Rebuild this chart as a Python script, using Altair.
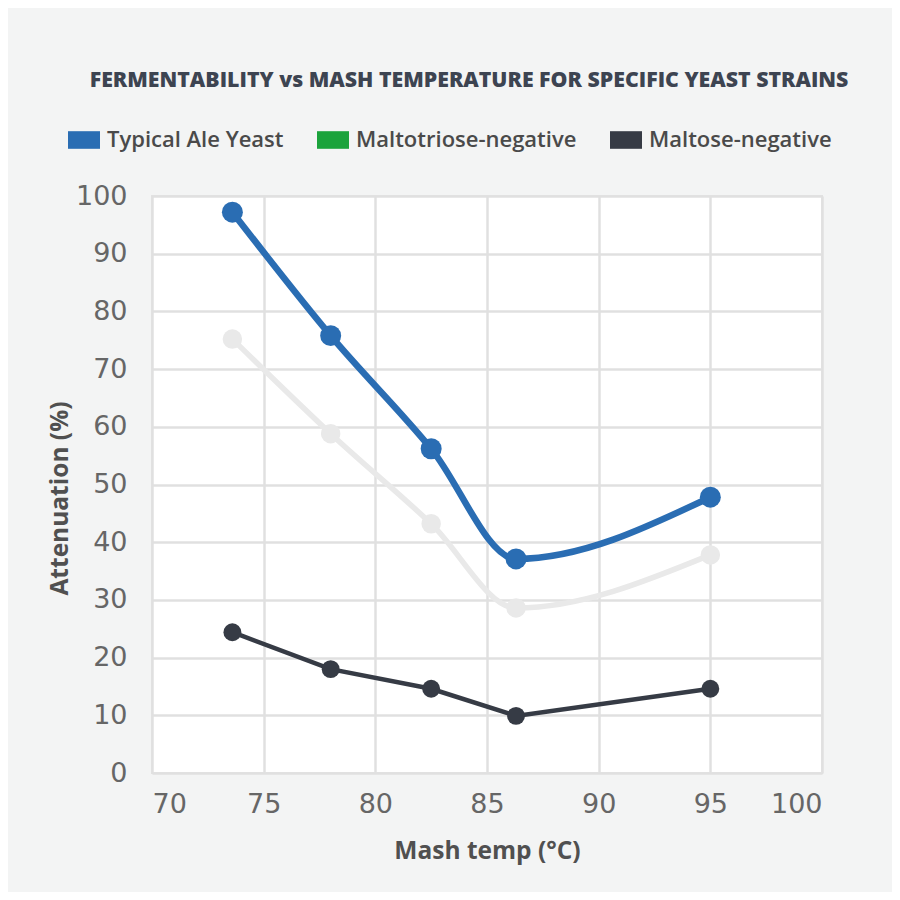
import altair as alt
import pandas as pd

series = ["Typical Ale Yeast", "Maltotriose-negative", "Maltose-negative"]
temps = [73.6, 78.0, 82.5, 86.3, 95.0]
ale = [97.2, 75.8, 56.2, 37.1, 47.8]
maltotriose_neg = [75.2, 58.8, 43.2, 28.6, 37.8]
maltose_neg = [24.4, 18.0, 14.6, 9.9, 14.6]

legend_colors = ["#2a6db3", "#1ba33c", "#363b45"]
line_colors = ["#2a6db3", "#e9e9e9", "#363b45"]

rows = []
for name, vals in zip(series, [ale, maltotriose_neg, maltose_neg]):
    for t, v in zip(temps, vals):
        rows.append({"series": name, "temp": t, "att": v})
df = pd.DataFrame(rows)

x = alt.X("temp:Q", title="Mash temp (°C)",
          scale=alt.Scale(domain=[70, 100], nice=False),
          axis=alt.Axis(values=[70, 75, 80, 85, 90, 95, 100]))
y = alt.Y("att:Q", title="Attenuation (%)",
          scale=alt.Scale(domain=[0, 100], nice=False),
          axis=alt.Axis(values=list(range(0, 101, 10)), titleY=302))

line_color = alt.Color("series:N", scale=alt.Scale(domain=series, range=line_colors), legend=None)
line_width = alt.StrokeWidth("series:N", scale=alt.Scale(domain=series, range=[6.5, 4.5, 6]), legend=None)
pt_size = alt.Size("series:N", scale=alt.Scale(domain=series, range=[440, 320, 400]), legend=None)

base = alt.Chart(df)
smooth = base.transform_filter(
    alt.FieldOneOfPredicate(field="series", oneOf=[series[0], series[1]])
).mark_line(interpolate="monotone").encode(x=x, y=y, color=line_color, strokeWidth=line_width,
                                           order=alt.Order("temp:Q"))
straight = base.transform_filter(
    alt.FieldEqualPredicate(field="series", equal=series[2])
).mark_line().encode(x=x, y=y, color=line_color, strokeWidth=line_width, order=alt.Order("temp:Q"))
points = base.mark_circle(opacity=1).encode(x=x, y=y, color=line_color, size=pt_size)

legend_layer = base.mark_point(filled=True, opacity=0).encode(
    x=x, y=y,
    color=alt.Color("series:N", scale=alt.Scale(domain=series, range=legend_colors),
                    legend=alt.Legend(
                        title=None, orient="none", direction="horizontal",
                        legendX=-84, legendY=-72,
                        symbolType="M-1,-0.55H1V0.55H-1Z", symbolSize=1024,
                        symbolOpacity=1, symbolStrokeWidth=0,
                        labelFont="Open Sans", labelFontSize=22, labelFontWeight=600,
                        labelColor="#4a4a4a", labelOffset=7, columnPadding=33,
                        labelLimit=400)),
)

chart = alt.layer(smooth, straight, points, legend_layer).resolve_scale(
    color="independent", size="independent", strokeWidth="independent"
).properties(
    width=670, height=577,
    autosize=alt.AutoSizeParams(type="none"),
    padding={"left": 144, "top": 188, "right": 70, "bottom": 119},
    background="#f3f4f4",
    title=alt.TitleParams(
        "FERMENTABILITY vs MASH TEMPERATURE FOR SPECIFIC YEAST STRAINS",
        font="Open Sans",
        fontSize=21.3, fontWeight=800, color="#3d4451",
        anchor="middle", dx=-18, offset=33,
    ),
).configure_view(
    fill="white", stroke="#e2e2e2", strokeWidth=2
).configure_axis(
    grid=True, gridColor="#e0e0e0", gridWidth=2.5,
    domain=False, ticks=False,
    labelFont="DejaVu Sans", labelFontSize=27, labelColor="#666666",
    titleFont="Open Sans", titleFontSize=24.5, titleFontWeight=700, titleColor="#505050",
).configure_axisX(
    labelPadding=18, titlePadding=22
).configure_axisY(
    labelPadding=25, titlePadding=3
)

chart.save("out.html", embed_options={"renderer": "svg", "actions": False})
